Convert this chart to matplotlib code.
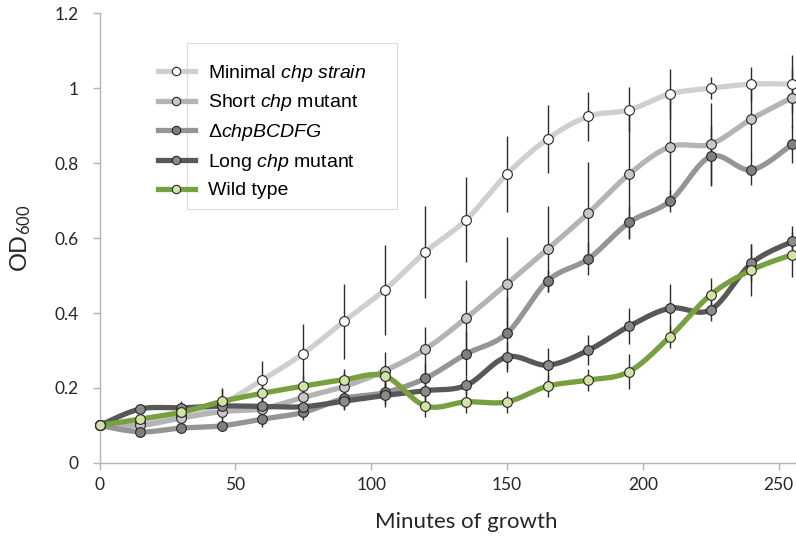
import numpy as np
import matplotlib
matplotlib.use("Agg")
import matplotlib.pyplot as plt
from matplotlib.patches import Rectangle

plt.rcParams["mathtext.fontset"] = "custom"
plt.rcParams["mathtext.rm"] = "Lato"
plt.rcParams["mathtext.it"] = "Liberation Sans:italic"

# Growth curves, OD600 every 15 min
minutes = [0, 15, 30, 45, 60, 75, 90, 105, 120, 135, 150, 165, 180, 195, 210, 225, 240, 255]

minimal = [0.100, 0.108, 0.125, 0.158, 0.222, 0.292, 0.378, 0.462, 0.563, 0.649, 0.771, 0.865,
           0.925, 0.942, 0.985, 1.000, 1.011, 1.011]
minimal_err = [0, 0.01, 0.03, 0.04, 0.05, 0.08, 0.10, 0.12, 0.122, 0.114, 0.102, 0.09,
               0.065, 0.06, 0.067, 0.03, 0.045, 0.078]

short = [0.100, 0.100, 0.120, 0.137, 0.145, 0.175, 0.204, 0.246, 0.304, 0.387, 0.478, 0.571,
         0.667, 0.771, 0.844, 0.851, 0.918, 0.975]
short_err = [0, 0.01, 0.02, 0.03, 0.03, 0.03, 0.04, 0.05, 0.06, 0.10, 0.126, 0.115,
             0.137, 0.17, 0.15, 0.11, 0.10, 0.08]

delta = [0.100, 0.083, 0.093, 0.099, 0.117, 0.135, 0.172, 0.188, 0.226, 0.291, 0.346, 0.486,
         0.545, 0.642, 0.699, 0.818, 0.782, 0.851]
delta_err = [0, 0.01, 0.01, 0.015, 0.02, 0.02, 0.03, 0.03, 0.04, 0.06, 0.096, 0.03,
             0.044, 0.045, 0.03, 0.08, 0.04, 0.05]

long_ = [0.100, 0.144, 0.147, 0.152, 0.151, 0.150, 0.165, 0.180, 0.193, 0.207, 0.283, 0.261,
         0.301, 0.365, 0.413, 0.409, 0.533, 0.591]
long_err = [0, 0.01, 0.01, 0.02, 0.02, 0.02, 0.02, 0.03, 0.03, 0.025, 0.04, 0.045,
            0.04, 0.048, 0.065, 0.03, 0.05, 0.04]

wild = [0.100, 0.117, 0.135, 0.164, 0.186, 0.205, 0.222, 0.232, 0.152, 0.163, 0.163, 0.205,
        0.221, 0.244, 0.337, 0.449, 0.515, 0.556]
wild_err = [0, 0.01, 0.03, 0.035, 0.03, 0.03, 0.03, 0.03, 0.03, 0.03, 0.03, 0.03,
            0.03, 0.048, 0.03, 0.045, 0.07, 0.06]

labels = ["Minimal $\\mathit{chp\\ strain}$", "Short $\\mathit{chp}$ mutant",
          "\u0394$\\mathit{chpBCDFG}$", "Long $\\mathit{chp}$ mutant", "Wild type"]
line_colors = ["#cfcfcf", "#b4b4b4", "#959595", "#585858", "#77a041"]
marker_colors = ["#ffffff", "#c8c8c8", "#7f7f7f", "#8a8a8a", "#d3e3a5"]


def smooth(x, y, n=20):
    # Excel-style smoothed line (cubic bezier through each point)
    x = np.asarray(x, float)
    y = np.asarray(y, float)
    px = np.concatenate([[x[0]], x, [x[-1]]])
    py = np.concatenate([[y[0]], y, [y[-1]]])
    t = np.linspace(0, 1, n)
    xs, ys = [], []
    for i in range(1, len(px) - 2):
        c1x = px[i] + (px[i + 1] - px[i - 1]) / 6
        c1y = py[i] + (py[i + 1] - py[i - 1]) / 6
        c2x = px[i + 1] - (px[i + 2] - px[i]) / 6
        c2y = py[i + 1] - (py[i + 2] - py[i]) / 6
        b0, b1, b2, b3 = (1 - t) ** 3, 3 * (1 - t) ** 2 * t, 3 * (1 - t) * t ** 2, t ** 3
        xs.append(b0 * px[i] + b1 * c1x + b2 * c2x + b3 * px[i + 1])
        ys.append(b0 * py[i] + b1 * c1y + b2 * c2y + b3 * py[i + 1])
    return np.concatenate(xs), np.concatenate(ys)


fig = plt.figure(figsize=(7.96, 5.44), dpi=100)
ax = fig.add_axes([0.125, 0.149, 0.8737, 0.8266])

series = [(minimal, minimal_err), (short, short_err), (delta, delta_err),
          (long_, long_err), (wild, wild_err)]

for i, (vals, errs) in enumerate(series):
    sx, sy = smooth(minutes, vals)
    ax.plot(sx, sy, color=line_colors[i], lw=3.8, solid_capstyle="round",
            zorder=2 + i * 0.1, clip_on=False)
    ax.errorbar(minutes, vals, yerr=errs, fmt="none", ecolor="#2b2b2b",
                elinewidth=1.0, capsize=0, zorder=3, clip_on=False)

handles = []
for i, (vals, errs) in enumerate(series):
    ax.plot(minutes, vals, "o", ms=7, mfc=marker_colors[i], mec="#262626",
            mew=0.8, zorder=4 + i * 0.1, clip_on=False)
    h, = ax.plot([], [], color=line_colors[i], lw=3.8, marker="o", ms=6,
                 mfc=marker_colors[i], mec="#262626", mew=0.8)
    handles.append(h)

ax.set_xlim(0, 256)
ax.set_ylim(0, 1.2)
ax.set_xticks([0, 50, 100, 150, 200, 250])
ax.set_yticks([0, 0.2, 0.4, 0.6, 0.8, 1.0, 1.2])
ax.set_yticklabels(["0", "0.2", "0.4", "0.6", "0.8", "1", "1.2"])

for s in ["top", "right"]:
    ax.spines[s].set_visible(False)
for s in ["left", "bottom"]:
    ax.spines[s].set_color("#b3b3b3")
    ax.spines[s].set_linewidth(1.0)
ax.tick_params(colors="#b3b3b3", labelcolor="#262626", length=5, width=1.0,
               labelsize=12.5)
ax.tick_params(axis="x", pad=5)
ax.tick_params(axis="y", pad=10)
for lab in ax.get_xticklabels() + ax.get_yticklabels():
    lab.set_family("Lato")

ax.set_xlabel("Minutes of growth", fontsize=16, family="Lato", color="#262626")
ax.xaxis.set_label_coords(0.528, -0.108)
ax.set_ylabel("$\\mathregular{OD_{600}}$", fontsize=17, family="Lato", color="#262626")
ax.yaxis.set_label_coords(-0.095, 0.5)

leg = fig.legend(handles, labels, loc="upper left", bbox_to_anchor=(148 / 796, 1 - 53 / 544),
                 frameon=False, borderpad=0, handlelength=1.9, handletextpad=0.7,
                 labelspacing=0.45, prop={"family": "Liberation Sans", "size": 14})

fig.patches.append(Rectangle((187 / 796, 1 - 209 / 544), 210 / 796, 166 / 544,
                             transform=fig.transFigure, fill=False,
                             edgecolor="#dcdcdc", lw=0.8))

fig.savefig("out.png", dpi=100)
